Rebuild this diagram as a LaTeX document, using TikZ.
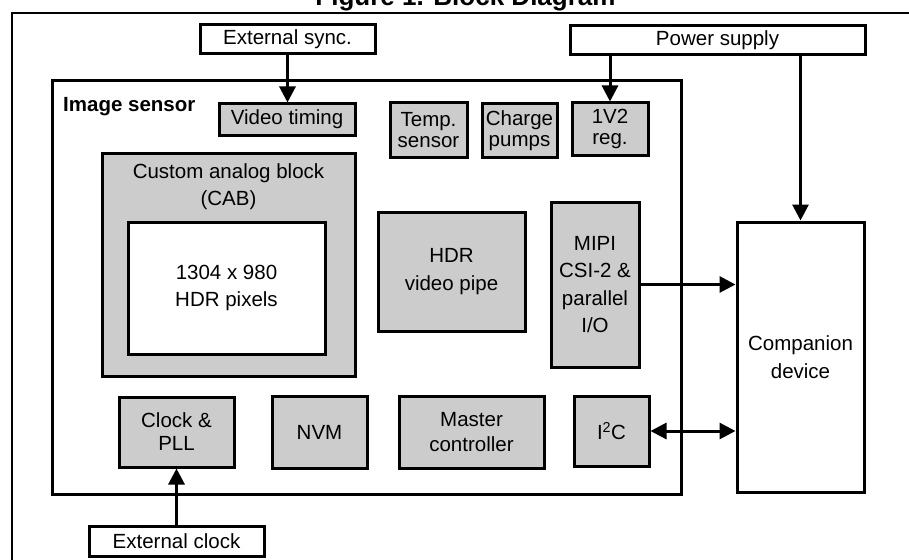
\documentclass[tikz,border=0pt]{standalone}
\usepackage{fontspec}
\setmainfont{Liberation Sans}
\usetikzlibrary{arrows.meta}
\definecolor{boxgrey}{HTML}{CCCCCC}
\begin{document}
\begin{tikzpicture}[x=1pt,y=-1pt,
  blk/.style={draw, line width=3pt, fill=boxgrey, align=center, inner sep=0pt,
              font=\fontsize{20.5}{27.5}\selectfont},
  wblk/.style={blk, fill=white},
  tight/.style={font=\fontsize{20.5}{21}\selectfont},
  lbl/.style={inner sep=0pt, align=center, font=\fontsize{20.5}{27.5}\selectfont},
  arr/.style={line width=3pt, -{Triangle[length=16pt,width=16pt]}},
  darr/.style={line width=3pt, {Triangle[length=16pt,width=16pt]}-{Triangle[length=16pt,width=16pt]}}]
\useasboundingbox (0,0) rectangle (909,559);
\clip (0,0) rectangle (909,559);
\fill[white] (0,0) rectangle (909,559);
% title (cut off at the top)
\node[inner sep=0pt, anchor=base, font=\bfseries\fontsize{26}{30}\selectfont] (title) at (465.5,6) {Figure 1. Block Diagram};
% outer frame
\node[draw, line width=2pt, minimum width=908pt, minimum height=587pt, inner sep=0pt] (frame) at (466,306.5) {};
% external boxes
\node[wblk, minimum width=175pt, minimum height=29pt] (extsync) at (287.5,39.5) {External sync.};
\node[wblk, minimum width=295pt, minimum height=29pt] (power) at (717.5,40.5) {Power supply};
\node[wblk, minimum width=175pt, minimum height=30pt] (extclock) at (176.5,541) {External clock};
\node[wblk, minimum width=127pt, minimum height=270pt] (companion) at (800.5,357) {Companion\\device};
% image sensor
\node[wblk, minimum width=629pt, minimum height=413pt] (sensor) at (366.5,287.5) {};
\node[inner sep=0pt, anchor=base west, font=\bfseries\fontsize{20.5}{24}\selectfont] (sensorlabel) at (63,112) {Image sensor};
\node[blk, minimum width=136pt, minimum height=31pt] (vtiming) at (287,119.5) {Video timing};
\node[blk, tight, minimum width=77pt, minimum height=54pt] (temp) at (428.5,130) {Temp.\\sensor};
\node[blk, tight, minimum width=75pt, minimum height=53pt] (charge) at (519.5,130.5) {Charge\\pumps};
\node[blk, tight, minimum width=76pt, minimum height=52pt] (reg) at (610,129) {1V2\\reg.};
\node[blk, minimum width=253pt, minimum height=223pt] (cab) at (228.5,264.5) {};
\node[lbl, anchor=base] (cabtext) at (228.5,205.5) {Custom analog block\\(CAB)};
\node[wblk, minimum width=197pt, minimum height=132pt] (pixels) at (226.5,288) {1304 x 980\\HDR pixels};
\node[blk, minimum width=147pt, minimum height=119pt] (hdr) at (451.5,271.5) {HDR\\video pipe};
\node[blk, minimum width=88pt, minimum height=165pt] (mipi) at (595,284.5) {MIPI\\CSI-2 \&\\parallel\\I/O};
\node[blk, font=\fontsize{20.5}{23}\selectfont, minimum width=115pt, minimum height=70pt] (clock) at (176.5,432) {Clock \&\\PLL};
\node[blk, minimum width=95pt, minimum height=72pt] (nvm) at (319.5,432) {NVM};
\node[blk, font=\fontsize{20.5}{25}\selectfont, minimum width=145pt, minimum height=72pt] (master) at (471.5,432) {Master\\controller};
\node[blk, minimum width=75pt, minimum height=70pt] (i2c) at (611.5,431) {I\textsuperscript{2}C};
% connectors
\draw[arr] (extsync.south) -- (extsync.south |- vtiming.north);
\draw[arr] (reg.north |- power.south) -- (reg.north);
\draw[arr] (companion.north |- power.south) -- (companion.north);
\draw[arr] (mipi.east) -- (mipi.east -| companion.west);
\draw[darr] (i2c.east) -- (i2c.east -| companion.west);
\draw[arr] (extclock.north) -- (extclock.north |- clock.south);
\end{tikzpicture}
\end{document}
